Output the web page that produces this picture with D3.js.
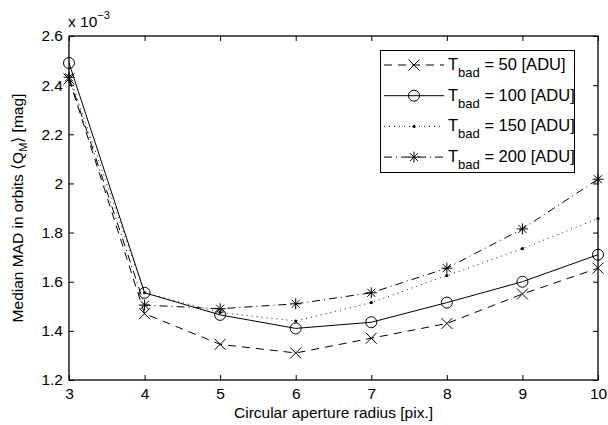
<!DOCTYPE html>
<html><head><meta charset="utf-8">
<script src="https://cdn.jsdelivr.net/npm/d3@7"></script>
<style>body{margin:0;background:#fff}svg{font-family:"Liberation Sans",Arial,Helvetica,sans-serif}</style>
</head><body><svg id="c" width="608" height="425"></svg>
<script>
const radii = [3,4,5,6,7,8,9,10];
const t50  = [2.425,1.47,1.345,1.31,1.37,1.43,1.55,1.655];
const t100 = [2.49,1.555,1.465,1.41,1.435,1.515,1.60,1.71];
const t150 = [2.44,1.555,1.475,1.44,1.515,1.625,1.735,1.857];
const t200 = [2.432,1.505,1.49,1.51,1.555,1.655,1.815,2.017];
const yTicks = [1.2,1.4,1.6,1.8,2,2.2,2.4,2.6];
const seriesNames = ["50","100","150","200"];

const svg = d3.select("#c");
const L=69,R=598,T=36,B=380;
const x = d3.scaleLinear().domain([3,10]).range([L,R]);
const y = d3.scaleLinear().domain([1.2,2.6]).range([B,T]);

const series = [
  {name:seriesNames[0], v:t50, dash:"8,6", marker:"x"},
  {name:seriesNames[1], v:t100, dash:null, marker:"o"},
  {name:seriesNames[2], v:t150, dash:"1,4", marker:"dot"},
  {name:seriesNames[3], v:t200, dash:"8,4,1,4", marker:"star"}
];

const fs = 15.5;
const gx = svg.append("g").attr("transform",`translate(0,${B})`)
  .call(d3.axisBottom(x).tickValues(radii).tickFormat(d3.format("d")).tickSize(-5).tickPadding(8));
const gxt = svg.append("g").attr("transform",`translate(0,${T})`)
  .call(d3.axisTop(x).tickValues(radii).tickFormat("").tickSize(-5));
const gy = svg.append("g").attr("transform",`translate(${L},0)`)
  .call(d3.axisLeft(y).tickValues(yTicks).tickFormat(d=>d3.format("")(+d.toFixed(1))).tickSize(-5).tickPadding(6));
const gyr = svg.append("g").attr("transform",`translate(${R},0)`)
  .call(d3.axisRight(y).tickValues(yTicks).tickFormat("").tickSize(-5));
[gx,gxt,gy,gyr].forEach(g=>{
  g.select(".domain").remove();
  g.selectAll("line").attr("stroke","#000").attr("stroke-width",1);
  g.selectAll("text").attr("font-size",fs).attr("fill","#000").attr("font-family","Liberation Sans, Arial, sans-serif");
});
svg.append("rect").attr("x",L).attr("y",T).attr("width",R-L).attr("height",B-T)
  .attr("fill","none").attr("stroke","#000").attr("stroke-width",1.3);

// multiplier
const mt = svg.append("text").attr("x",68).attr("y",27).attr("font-size",fs);
mt.append("tspan").text("x 10");
mt.append("tspan").attr("dy",-8).attr("font-size",11).text("−3");

// axis labels
svg.append("text").attr("x",(L+R)/2).attr("y",418).attr("text-anchor","middle").attr("font-size",fs)
  .text("Circular aperture radius [pix.]");
const yl = svg.append("text").attr("transform",`translate(23,${(T+B)/2}) rotate(-90)`)
  .attr("text-anchor","middle").attr("font-size",fs);
yl.append("tspan").text("Median MAD in orbits ⟨Q");
yl.append("tspan").attr("font-size",11).attr("dy",4).text("M");
yl.append("tspan").attr("dy",-4).text("⟩ [mag]");

function marker(g, type, cx, cy){
  if(type==="x"){
    const s=5.5;
    g.append("path").attr("d",`M${cx-s},${cy-s}L${cx+s},${cy+s}M${cx-s},${cy+s}L${cx+s},${cy-s}`)
      .attr("stroke","#000").attr("stroke-width",1).attr("fill","none");
  } else if(type==="o"){
    g.append("circle").attr("cx",cx).attr("cy",cy).attr("r",5.5).attr("fill","none").attr("stroke","#000").attr("stroke-width",1);
  } else if(type==="dot"){
    g.append("circle").attr("cx",cx).attr("cy",cy).attr("r",1.6).attr("fill","#000");
  } else {
    const s=5.5, d=4;
    g.append("path").attr("d",`M${cx-s},${cy}L${cx+s},${cy}M${cx},${cy-s}L${cx},${cy+s}M${cx-d},${cy-d}L${cx+d},${cy+d}M${cx-d},${cy+d}L${cx+d},${cy-d}`)
      .attr("stroke","#000").attr("stroke-width",1).attr("fill","none");
  }
}

const line = d3.line().x((d,i)=>x(radii[i])).y(d=>y(d));
const plot = svg.append("g");
series.forEach(s=>{
  plot.append("path").datum(s.v).attr("d",line).attr("fill","none").attr("stroke","#000")
    .attr("stroke-width",s.marker==="dot"?0.9:1).attr("stroke-dasharray",s.dash);
  s.v.forEach((v,i)=>marker(plot,s.marker,x(radii[i]),y(v)));
});

// legend
const lg = svg.append("g");
lg.append("rect").attr("x",380.5).attr("y",50.5).attr("width",194).attr("height",122)
  .attr("fill","#fff").attr("stroke","#000").attr("stroke-width",1);
series.forEach((s,i)=>{
  const yy = 65 + i*30.7;
  lg.append("line").attr("x1",384).attr("x2",444).attr("y1",yy).attr("y2",yy)
    .attr("stroke","#000").attr("stroke-width",1).attr("stroke-dasharray",s.dash);
  marker(lg,s.marker,414,yy);
  const t = lg.append("text").attr("x",448).attr("y",yy+5).attr("font-size",16.5);
  t.append("tspan").text("T");
  t.append("tspan").attr("font-size",13).attr("dy",7).text("bad");
  t.append("tspan").attr("dy",-7).text(` = ${s.name} [ADU]`);
});
</script></body></html>
